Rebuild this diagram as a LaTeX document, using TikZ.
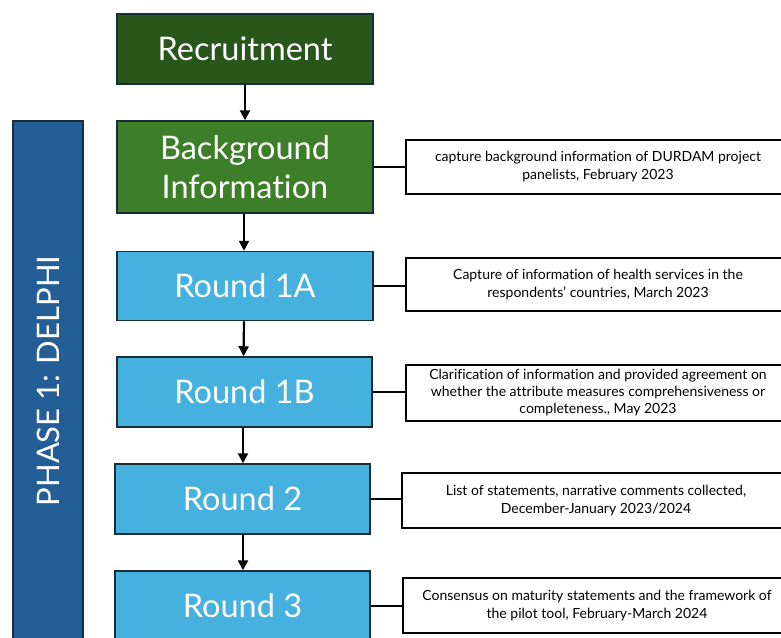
\documentclass[tikz,border=0pt]{standalone}
\usepackage{fontspec}
\setmainfont{Lato}[Ligatures={NoCommon}]
\usetikzlibrary{arrows.meta}
\definecolor{recgreen}{RGB}{40,86,27}
\definecolor{bggreen}{RGB}{61,126,40}
\definecolor{roundblue}{RGB}{70,176,222}
\definecolor{phaseblue}{RGB}{35,94,150}
\definecolor{edgedark}{RGB}{25,45,55}
\tikzset{
  stagebox/.style={draw=edgedark, line width=1.5pt, text=white, align=center,
    minimum width=256pt, minimum height=70pt, inner sep=0pt,
    font=\fontsize{32.5}{39}\selectfont},
  notebox/.style={draw=black, line width=1.8pt, fill=white, align=center,
    minimum width=384pt, inner sep=0pt, font=\fontsize{14}{18}\selectfont},
  flow/.style={line width=2.2pt, -{Triangle[length=10pt,width=10pt]}},
  link/.style={line width=2pt}
}
\begin{document}
\begin{tikzpicture}[x=1pt,y=-1pt]
\useasboundingbox (0,0) rectangle (781,637);
\clip (0,0) rectangle (781,637);

% phase band on the left
\node[draw=edgedark, line width=1.5pt, fill=phaseblue, minimum width=70pt,
  minimum height=540pt, inner sep=0pt] (phase) at (48,391) {};
\node[rotate=90, text=white, font=\fontsize{31}{34}\selectfont] (phaselbl) at (48,381) {PHASE 1: DELPHI};

% stages
\node[stagebox, fill=recgreen] (rec) at (245,49) {Recruitment};
\node[stagebox, fill=bggreen, minimum height=92pt] (bg) at (245,167) {Background\\Information};
\node[stagebox, fill=roundblue, minimum height=69pt] (r1a) at (245,286) {Round 1A};
\node[stagebox, fill=roundblue, minimum width=255pt] (r1b) at (244.5,392) {Round 1B};
\node[stagebox, fill=roundblue, minimum width=255pt] (r2) at (242.5,499) {Round 2};
\node[stagebox, fill=roundblue, minimum width=255pt] (r3) at (242.5,606) {Round 3};

% flow arrows
\draw[flow] (rec.south) -- (bg.north);
\draw[flow] ([xshift=-1pt]bg.south) -- ([xshift=-1pt]r1a.north);
\draw[flow] ([xshift=-1pt]r1a.south) -- ([xshift=-1pt]r1b.north);
\draw[flow] ([xshift=-1.5pt]r1b.south) -- ([xshift=0.5pt]r2.north);
\draw[flow] ([xshift=0.5pt]r2.south) -- ([xshift=0.5pt]r3.north);

% descriptions
\node[notebox, minimum height=54pt] (n1) at (598,167)
  {capture background information of DURDAM project\\panelists, February 2023};
\node[notebox, minimum height=53pt] (n2) at (598,284.5)
  {Capture of information of health services in the\\respondents' countries, March 2023};
\node[notebox, minimum height=56pt, font=\fontsize{14}{17}\selectfont] (n3) at (598,393)
  {Clarification of information and provided agreement on\\whether the attribute measures comprehensiveness or\\completeness., May 2023};
\node[notebox, minimum height=55pt, minimum width=388pt] (n4) at (596,500.5)
  {List of statements, narrative comments collected,\\December-January 2023/2024};
\node[notebox, minimum height=55pt, minimum width=388pt] (n5) at (597,605.5)
  {Consensus on maturity statements and the framework of\\the pilot tool, February-March 2024};

% links from stages to descriptions
\draw[link] (bg.east) -- (n1.west |- bg.east);
\draw[link] (r1a.east) -- (n2.west |- r1a.east);
\draw[link] (r1b.east) -- (n3.west |- r1b.east);
\draw[link] (r2.east) -- (n4.west |- r2.east);
\draw[link] (r3.east) -- (n5.west |- r3.east);
\end{tikzpicture}
\end{document}
